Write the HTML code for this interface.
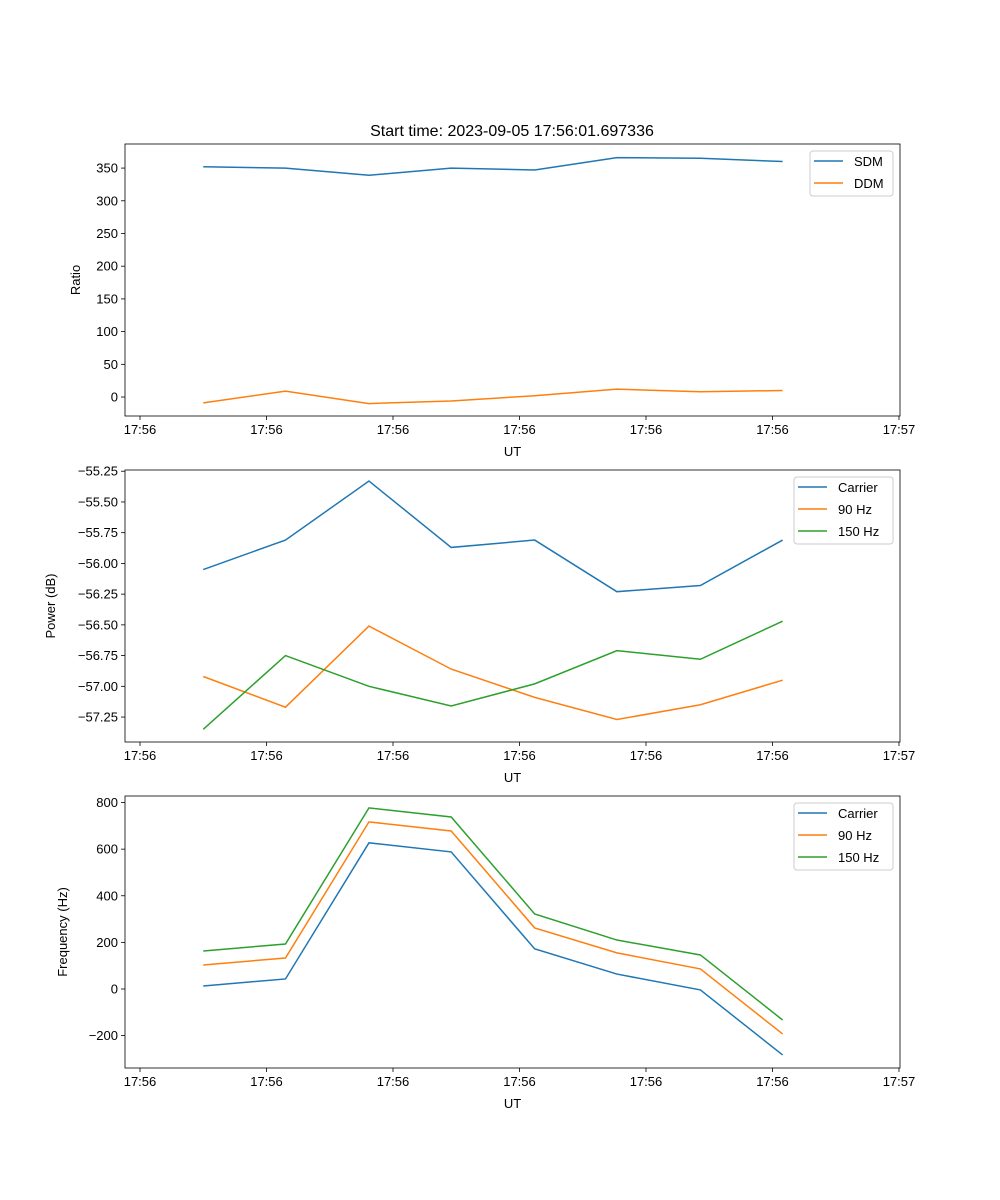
<!DOCTYPE html>
<html><head><meta charset="utf-8"><style>
body{margin:0;background:#fff}
svg{display:block;font-family:"Liberation Sans","DejaVu Sans",sans-serif}
</style></head><body>
<svg id="fig" width="1000" height="1200" viewBox="0 0 1000 1200">
<rect width="1000" height="1200" fill="#fff"/>
<text x="512" y="136" font-size="16" text-anchor="middle">Start time: 2023-09-05 17:56:01.697336</text>
</svg>
<script>
// Shared data
const times = [5.0, 11.5, 18.1, 24.6, 31.2, 37.7, 44.3, 50.8];
const xTicks = [0, 10, 20, 30, 40, 50, 60];
const xTickLabels = ["17:56","17:56","17:56","17:56","17:56","17:56","17:57"];
// Panel 1
const sdm = [352, 350, 339, 350, 347, 366, 365, 360];
const ddm = [-9, 9, -10, -6, 2, 12, 8, 10];
const ratioTicks = [0, 50, 100, 150, 200, 250, 300, 350];
// Panel 2
const powCarrier = [-56.05, -55.81, -55.33, -55.87, -55.81, -56.23, -56.18, -55.81];
const pow90 = [-56.92, -57.17, -56.51, -56.86, -57.09, -57.27, -57.15, -56.95];
const pow150 = [-57.35, -56.75, -57.00, -57.16, -56.98, -56.71, -56.78, -56.47];
const powTicks = [-57.25, -57.0, -56.75, -56.5, -56.25, -56.0, -55.75, -55.5, -55.25];
// Panel 3
const freqCarrier = [13, 43, 627, 588, 172, 64, -4, -283];
const freq90 = [103, 133, 717, 678, 262, 155, 86, -193];
const freq150 = [163, 193, 777, 738, 322, 210, 146, -133];
const freqTicks = [-200, 0, 200, 400, 600, 800];

const NS = "http://www.w3.org/2000/svg";
const svg = document.getElementById('fig');
const C = ['#1f77b4', '#ff7f0e', '#2ca02c'];
function mk(tag, attrs, parent) {
  const e = document.createElementNS(NS, tag);
  for (const k in attrs) e.setAttribute(k, attrs[k]);
  (parent || svg).appendChild(e);
  return e;
}
const L = 125, R = 900, xmin = -1.186, xmax = 60.08;
function xs(t) { return L + (t - xmin) / (xmax - xmin) * (R - L); }

function panel(name, top, bottom, ymin, ymax, yTicks, fmt, ylabel, series, legend) {
  const g = mk('g', {});
  
  
  const ys = v => bottom - (v - ymin) / (ymax - ymin) * (bottom - top);
  series.forEach((s, i) => {
    const pts = s.vals.map((v, j) => xs(times[j]).toFixed(2) + ',' + ys(v).toFixed(2)).join(' ');
    const pl = mk('polyline', { points: pts, fill: 'none', stroke: s.color, 'stroke-width': 1.5 }, g);
    
    
  });
  const fr = mk('rect', { x: L, y: top, width: R - L, height: bottom - top, fill: 'none', stroke: '#000', 'stroke-width': 0.8 }, g);
  
  
  xTicks.forEach((t, i) => {
    const x = xs(t);
    mk('line', { x1: x, x2: x, y1: bottom, y2: bottom + 4, stroke: '#000', 'stroke-width': 0.8 }, g);
    const tx = mk('text', { x: x, y: bottom + 18, 'font-size': 13, 'text-anchor': 'middle' }, g);
    tx.textContent = xTickLabels[i];
    
    
  });
  const xl = mk('text', { x: (L + R) / 2, y: bottom + 40, 'font-size': 13, 'text-anchor': 'middle' }, g);
  xl.textContent = 'UT';
  
  
  yTicks.forEach(v => {
    const y = ys(v);
    mk('line', { x1: L - 4, x2: L, y1: y, y2: y, stroke: '#000', 'stroke-width': 0.8 }, g);
    const tx = mk('text', { x: L - 7, y: y + 4.5, 'font-size': 13, 'text-anchor': 'end' }, g);
    tx.textContent = fmt(v);
    
    
  });
  const yl = mk('text', { x: 0, y: 0, 'font-size': 13, 'text-anchor': 'middle', transform: `translate(${legend.ylx},${(top + bottom) / 2}) rotate(-90)` }, g);
  yl.textContent = ylabel;
  
  
  const lg = mk('g', {}, g);
  
  
  const h = 1 + series.length * 22;
  mk('rect', { x: legend.x, y: top + 7, width: 893 - legend.x, height: h, fill: '#fff', stroke: '#ccc', rx: 3 }, lg);
  series.forEach((s, i) => {
    const y = top + 17 + i * 22;
    mk('line', { x1: legend.x + 4, x2: legend.x + 33, y1: y, y2: y, stroke: s.color, 'stroke-width': 1.5 }, lg);
    const tx = mk('text', { x: legend.x + 44, y: y + 5, 'font-size': 13 }, lg);
    tx.textContent = s.label;
    
    
  });
}
const m = v => (v < 0 ? '\u2212' : '') + Math.abs(v);
panel('ratio', 144, 416, -29, 386.8, ratioTicks, v => m(v), 'Ratio',
  [{ key: 'sdm', label: 'SDM', vals: sdm, color: C[0] }, { key: 'ddm', label: 'DDM', vals: ddm, color: C[1] }],
  { x: 810, ylx: 80 });
panel('power', 470, 742, -57.453, -55.24, powTicks, v => '\u2212' + Math.abs(v).toFixed(2), 'Power (dB)',
  [{ key: 'carrier', label: 'Carrier', vals: powCarrier, color: C[0] }, { key: '90hz', label: '90 Hz', vals: pow90, color: C[1] }, { key: '150hz', label: '150 Hz', vals: pow150, color: C[2] }],
  { x: 794, ylx: 55 });
panel('frequency', 796, 1068, -339, 828, freqTicks, v => m(v), 'Frequency (Hz)',
  [{ key: 'carrier', label: 'Carrier', vals: freqCarrier, color: C[0] }, { key: '90hz', label: '90 Hz', vals: freq90, color: C[1] }, { key: '150hz', label: '150 Hz', vals: freq150, color: C[2] }],
  { x: 794, ylx: 67 });
</script>
</body></html>
